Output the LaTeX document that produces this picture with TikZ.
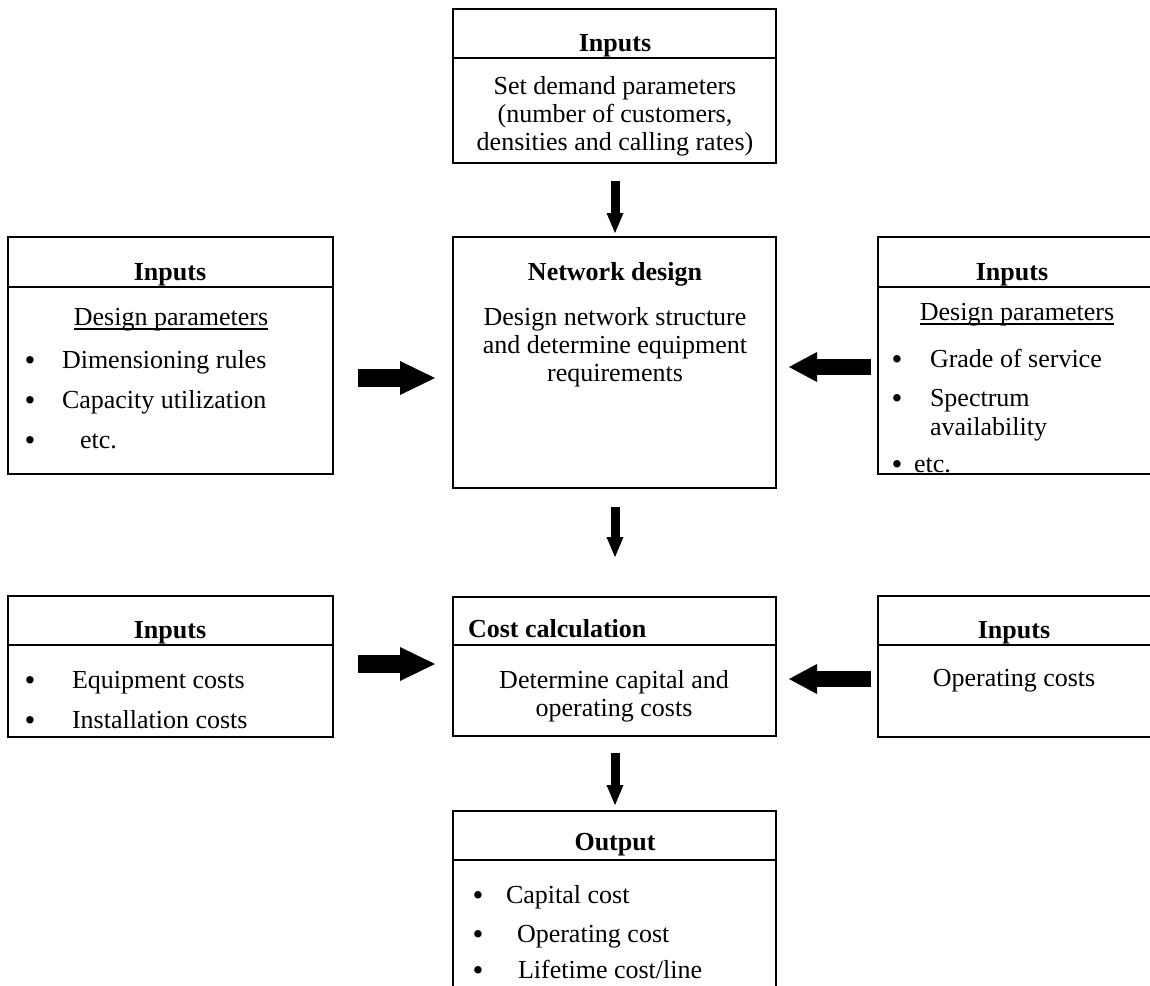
\documentclass[tikz,border=0pt]{standalone}
\usepackage{fontspec}
\setmainfont{Liberation Serif}
\usetikzlibrary{arrows.meta}
\begin{document}
\begin{tikzpicture}[x=1pt,y=-1pt,
  box/.style={draw, line width=2pt, inner sep=0pt, outer sep=0pt, anchor=north west},
  txt/.style={inner sep=0pt, outer sep=0pt, font=\fontsize{26pt}{28.5pt}\selectfont},
  ctr/.style={txt, anchor=base},
  lft/.style={txt, anchor=base west},
  head/.style={ctr, font=\fontsize{26pt}{28.5pt}\selectfont\bfseries},
  headl/.style={lft, font=\fontsize{26pt}{28.5pt}\selectfont\bfseries},
  dot/.style={ctr, font=\fontsize{31pt}{31pt}\selectfont, yshift=-2pt},
  sep/.style={line width=2pt},
  uline/.style={line width=1.2pt},
  rarrow/.style={line width=18pt, -{Triangle[length=35pt,width=34pt,line width=0pt]}},
  larrow/.style={line width=16pt, -{Triangle[length=28pt,width=30pt,line width=0pt]}},
  darrow/.style={line width=9pt, -{Triangle[length=20pt,width=17pt,line width=0pt]}},
]
\useasboundingbox (0,0) rectangle (1150,985);
\clip (0,0) rectangle (1150,985);

% ---- boxes ----
\node[box, minimum width=323pt, minimum height=154pt] (top)    at (453,9)   {};
\node[box, minimum width=325pt, minimum height=237pt] (left1)  at (8,237)   {};
\node[box, minimum width=323pt, minimum height=251pt] (mid1)   at (453,237) {};
\node[box, minimum width=274pt, minimum height=237pt] (right1) at (878,237) {};
\node[box, minimum width=325pt, minimum height=141pt] (left2)  at (8,596)   {};
\node[box, minimum width=323pt, minimum height=139pt] (mid2)   at (453,597) {};
\node[box, minimum width=274pt, minimum height=141pt] (right2) at (878,596) {};
\node[box, minimum width=323pt, minimum height=200pt] (out)    at (453,811) {};

% header rules
\draw[sep] (top.west |- 0,58)     -- (top.east |- 0,58);
\draw[sep] (left1.west |- 0,287)  -- (left1.east |- 0,287);
\draw[sep] (right1.west |- 0,287) -- (right1.east |- 0,287);
\draw[sep] (left2.west |- 0,645)  -- (left2.east |- 0,645);
\draw[sep] (mid2.west |- 0,645)   -- (mid2.east |- 0,645);
\draw[sep] (right2.west |- 0,645) -- (right2.east |- 0,645);
\draw[sep] (out.west |- 0,860)    -- (out.east |- 0,860);

% ---- demand inputs ----
\node[head] (top-h) at (615,51) {Inputs};
\node[ctr] (top-1) at (615,94)  {Set demand parameters};
\node[ctr] (top-2) at (615,122) {(number of customers,};
\node[ctr] (top-3) at (615,150) {densities and calling rates)};

% ---- design inputs, left ----
\node[head] (l1-h) at (170,280) {Inputs};
\node[ctr] (l1-dp) at (171,325) {Design parameters};
\draw[uline] ([yshift=-4pt]l1-dp.base west) -- ([yshift=-4pt]l1-dp.base east);
\node[dot] (l1-b1) at (30,368) {\textbullet};
\node[dot] (l1-b2) at (30,408) {\textbullet};
\node[dot] (l1-b3) at (30,448) {\textbullet};
\node[lft] (l1-1) at (62,368) {Dimensioning rules};
\node[lft] (l1-2) at (62,408) {Capacity utilization};
\node[lft] (l1-3) at (80,448) {etc.};

% ---- network design ----
\node[head] (m1-h) at (615,280) {Network design};
\node[ctr] (m1-1) at (615,325) {Design network structure};
\node[ctr] (m1-2) at (615,353) {and determine equipment};
\node[ctr] (m1-3) at (615,381) {requirements};

% ---- design inputs, right ----
\node[head] (r1-h) at (1012,280) {Inputs};
\node[ctr] (r1-dp) at (1017,320) {Design parameters};
\draw[uline] ([yshift=-4pt]r1-dp.base west) -- ([yshift=-4pt]r1-dp.base east);
\node[dot] (r1-b1) at (897,367) {\textbullet};
\node[dot] (r1-b2) at (897,406) {\textbullet};
\node[dot] (r1-b3) at (897,472) {\textbullet};
\node[lft] (r1-1) at (930,367) {Grade of service};
\node[lft] (r1-2) at (930,406) {Spectrum};
\node[lft] (r1-2b) at (930,435) {availability};
\node[lft] (r1-3) at (914,472) {etc.};

% ---- cost inputs, left ----
\node[head] (l2-h) at (170,638) {Inputs};
\node[dot] (l2-b1) at (30,688) {\textbullet};
\node[dot] (l2-b2) at (30,728) {\textbullet};
\node[lft] (l2-1) at (72,688) {Equipment costs};
\node[lft] (l2-2) at (72,728) {Installation costs};

% ---- cost calculation ----
\node[headl] (m2-h) at (468,637) {Cost calculation};
\node[ctr] (m2-1) at (614,688) {Determine capital and};
\node[ctr] (m2-2) at (614,716) {operating costs};

% ---- cost inputs, right ----
\node[head] (r2-h) at (1014,638) {Inputs};
\node[ctr] (r2-1) at (1014,686) {Operating costs};

% ---- output ----
\node[head] (o-h) at (615,850) {Output};
\node[dot] (o-b1) at (478,903) {\textbullet};
\node[dot] (o-b2) at (478,942) {\textbullet};
\node[dot] (o-b3) at (478,978) {\textbullet};
\node[lft] (o-1) at (506,903) {Capital cost};
\node[lft] (o-2) at (517,942) {Operating cost};
\node[lft] (o-3) at (518,978) {Lifetime cost/line};

% ---- block arrows ----
\coordinate (a1s) at (615,181); \coordinate (a1e) at (615,233);
\coordinate (a2s) at (615,507); \coordinate (a2e) at (615,557);
\coordinate (a3s) at (615,753); \coordinate (a3e) at (615,805);
\coordinate (h1s) at (358,378); \coordinate (h1e) at (435,378);
\coordinate (h2s) at (358,664); \coordinate (h2e) at (435,664);
\coordinate (h3s) at (871,367); \coordinate (h3e) at (789,367);
\coordinate (h4s) at (871,679); \coordinate (h4e) at (789,679);
\draw[darrow] (a1s) -- (a1e);
\draw[darrow] (a2s) -- (a2e);
\draw[darrow] (a3s) -- (a3e);
\draw[rarrow] (h1s) -- (h1e);
\draw[rarrow] (h2s) -- (h2e);
\draw[larrow] (h3s) -- (h3e);
\draw[larrow] (h4s) -- (h4e);
\end{tikzpicture}
\end{document}
